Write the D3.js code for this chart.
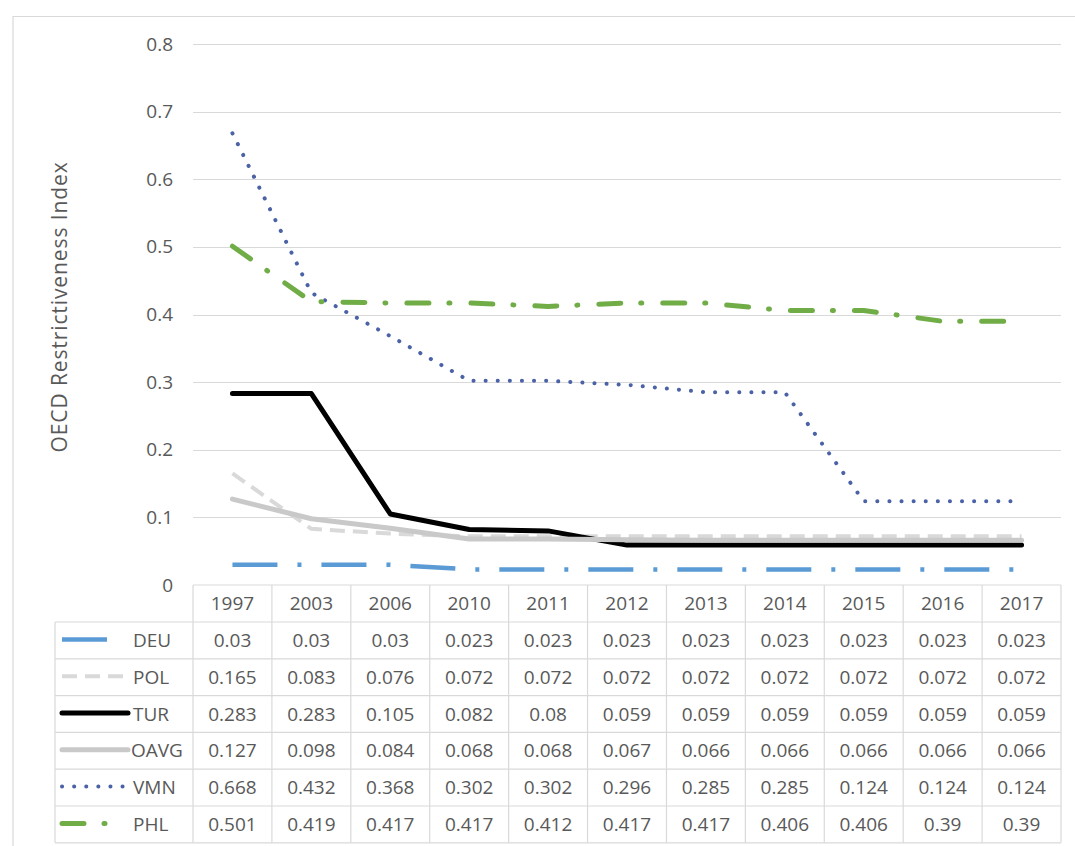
<!DOCTYPE html>
<html>
<head>
<meta charset="utf-8">
<script src="https://cdn.jsdelivr.net/npm/d3@7"></script>
<style>
  html, body { margin: 0; padding: 0; background: #fff; }
  svg { display: block; font-family: "Open Sans", sans-serif; }
</style>
</head>
<body>
<svg id="chart" width="1075" height="846"></svg>
<script>
// ---- data ----
const years = ["1997","2003","2006","2010","2011","2012","2013","2014","2015","2016","2017"];
const seriesNames = ["DEU","POL","TUR","OAVG","VMN","PHL"];
const deu  = [0.03, 0.03, 0.03, 0.023, 0.023, 0.023, 0.023, 0.023, 0.023, 0.023, 0.023];
const pol  = [0.165, 0.083, 0.076, 0.072, 0.072, 0.072, 0.072, 0.072, 0.072, 0.072, 0.072];
const tur  = [0.283, 0.283, 0.105, 0.082, 0.08, 0.059, 0.059, 0.059, 0.059, 0.059, 0.059];
const oavg = [0.127, 0.098, 0.084, 0.068, 0.068, 0.067, 0.066, 0.066, 0.066, 0.066, 0.066];
const vmn  = [0.668, 0.432, 0.368, 0.302, 0.302, 0.296, 0.285, 0.285, 0.124, 0.124, 0.124];
const phl  = [0.501, 0.419, 0.417, 0.417, 0.412, 0.417, 0.417, 0.406, 0.406, 0.39, 0.39];
const yTicks = [0, 0.1, 0.2, 0.3, 0.4, 0.5, 0.6, 0.7, 0.8];
const yTitle = "OECD Restrictiveness Index";

const seriesValues = [deu, pol, tur, oavg, vmn, phl];
const styles = {
  DEU:  { color: "#5b9bd5", width: 4.5, dash: "45,20,4,20", cap: "butt",  keyEnd: 108 },
  POL:  { color: "#d9d9d9", width: 4,   dash: "15,8",       cap: "butt",  keyEnd: 126 },
  TUR:  { color: "#000000", width: 5,   dash: null,         cap: "round", keyEnd: 128 },
  OAVG: { color: "#c9c9c9", width: 5,   dash: null,         cap: "round", keyEnd: 128 },
  VMN:  { color: "#4b62a6", width: 4,   dash: "0.1,12",     cap: "round", keyEnd: 126 },
  PHL:  { color: "#70ad47", width: 5,   dash: "22,20,1,21", cap: "round", keyEnd: 110 }
};

// ---- layout ----
const svg = d3.select("#chart");
const plotLeft = 193, plotRight = 1061;
const x = d3.scaleBand().domain(years).range([plotLeft, plotRight]).padding(0);
const y = d3.scaleLinear().domain([0, 0.8]).range([585, 44]);
const textColor = "#595959";
const gridColor = "#d9d9d9";

// outer frame
svg.append("path")
  .attr("d", "M13,846 V16.5 H1075")
  .attr("fill", "none").attr("stroke", gridColor).attr("stroke-width", 1.2);

// gridlines
svg.append("g").selectAll("line").data(yTicks.filter(t => t > 0)).join("line")
  .attr("x1", plotLeft).attr("x2", plotRight)
  .attr("y1", d => Math.round(y(d)) + 0.5).attr("y2", d => Math.round(y(d)) + 0.5)
  .attr("stroke", gridColor).attr("stroke-width", 1.2);

// y axis tick labels
const yAxis = d3.axisLeft(y).tickValues(yTicks).tickSize(0).tickPadding(0)
  .tickFormat(d => d === 0 ? "0" : d3.format(".1f")(d));
const gy = svg.append("g").attr("transform", "translate(173,0)").call(yAxis);
gy.select(".domain").remove();
gy.selectAll("text").attr("fill", textColor).attr("font-size", 19)
  .attr("font-family", "'Open Sans', sans-serif");

// y title
svg.append("text")
  .attr("transform", "translate(67,307) rotate(-90)")
  .attr("text-anchor", "middle")
  .attr("fill", textColor).attr("font-size", 21)
  .attr("letter-spacing", 0.9)
  .text(yTitle);

// ---- data table ----
const headerTop = 585, headerBottom = 622, rowH = 36.8;
const tableLeft = 55;
const tableBottom = headerBottom + rowH * seriesNames.length;
const tg = svg.append("g");
const colEdges = years.map(yr => x(yr)).concat([plotRight]);
tg.selectAll("line.v").data(colEdges).join("line")
  .attr("x1", d => d).attr("x2", d => d)
  .attr("y1", headerTop).attr("y2", tableBottom)
  .attr("stroke", gridColor).attr("stroke-width", 1.2);
tg.append("line").attr("x1", tableLeft).attr("x2", tableLeft)
  .attr("y1", headerBottom).attr("y2", tableBottom)
  .attr("stroke", gridColor).attr("stroke-width", 1.2);
tg.append("line").attr("x1", plotLeft).attr("x2", plotRight)
  .attr("y1", headerTop).attr("y2", headerTop)
  .attr("stroke", gridColor).attr("stroke-width", 1.2);
const rowLines = d3.range(seriesNames.length + 1).map(i => headerBottom + i * rowH);
tg.selectAll("line.h").data(rowLines).join("line")
  .attr("x1", tableLeft).attr("x2", plotRight)
  .attr("y1", d => d).attr("y2", d => d)
  .attr("stroke", gridColor).attr("stroke-width", 1.2);

tg.selectAll("text.yr").data(years).join("text")
  .attr("x", d => x(d) + x.bandwidth() / 2)
  .attr("y", (headerTop + headerBottom) / 2)
  .attr("dy", "0.35em").attr("text-anchor", "middle")
  .attr("fill", textColor).attr("font-size", 19)
  .text(d => d);

seriesNames.forEach((name, r) => {
  const cy = headerBottom + rowH * r + rowH / 2;
  const st = styles[name];
  const vals = seriesValues[r];
  tg.selectAll(null).data(vals).join("text")
    .attr("x", (d, i) => x(years[i]) + x.bandwidth() / 2)
    .attr("y", cy).attr("dy", "0.35em").attr("text-anchor", "middle")
    .attr("fill", textColor).attr("font-size", 19)
    .text(d => String(d));
  const key = tg.append("line")
    .attr("x1", 62).attr("x2", st.keyEnd)
    .attr("y1", cy - 1).attr("y2", cy - 1)
    .attr("stroke", st.color).attr("stroke-width", st.width)
    .attr("stroke-linecap", st.cap);
  if (st.dash) key.attr("stroke-dasharray", st.dash);
  tg.append("text")
    .attr("x", name === "OAVG" ? 131 : 133).attr("y", cy).attr("dy", "0.35em")
    .attr("fill", textColor).attr("font-size", 19)
    .text(name);
});

// ---- lines ----
const line = d3.line()
  .x((d, i) => x(years[i]) + x.bandwidth() / 2)
  .y(d => y(d));
const lg = svg.append("g");
seriesNames.forEach((name, r) => {
  const st = styles[name];
  const p = lg.append("path")
    .datum(seriesValues[r])
    .attr("d", line)
    .attr("fill", "none")
    .attr("stroke", st.color)
    .attr("stroke-width", st.width)
    .attr("stroke-linejoin", "round")
    .attr("stroke-linecap", st.cap);
  if (st.dash) p.attr("stroke-dasharray", st.dash);
});
</script>
</body>
</html>
